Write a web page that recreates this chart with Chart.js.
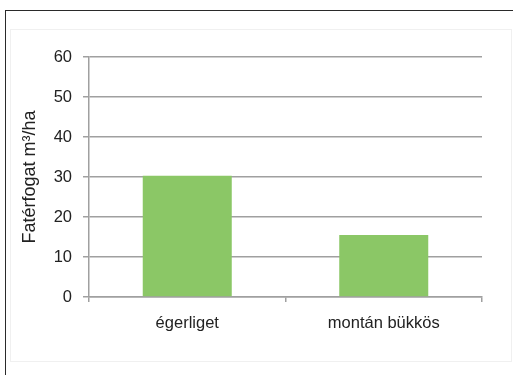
<!DOCTYPE html>
<html>
<head>
<meta charset="utf-8">
<script src="https://cdn.jsdelivr.net/npm/chart.js@4/dist/chart.umd.min.js"></script>
<style>
  body { margin: 0; background: #fff; overflow: hidden; }
  #frame { position: absolute; left: 5px; top: 10px; width: 600px; height: 500px; border: 1.5px solid #2a2a2a; }
  #inner { position: absolute; left: 10px; top: 29px; width: 500px; height: 331px; border: 1px solid #f0f0f0; }
  #chart { position: absolute; left: 0; top: 0; }
</style>
</head>
<body>
<div id="frame"></div>
<div id="inner"></div>
<canvas id="chart" width="513" height="375"></canvas>
<script>
const labels = ['égerliget', 'montán bükkös'];
const volume = [30.3, 15.5];
const yTitle = 'Fatérfogat m³/ha';

const grey = '#a0a0a0';
const family = '"Liberation Sans", Arial, sans-serif';
const font = { family: family, size: 16.5 };

new Chart(document.getElementById('chart'), {
  type: 'bar',
  data: {
    labels: labels,
    datasets: [{
      data: volume,
      backgroundColor: '#8bc766',
      borderWidth: 0,
      categoryPercentage: 1,
      barPercentage: 0.453
    }]
  },
  options: {
    responsive: false,
    animation: false,
    layout: { padding: { left: 0, top: 57, right: 31, bottom: 0 } },
    plugins: { legend: { display: false }, tooltip: { enabled: false } },
    scales: {
      x: {
        grid: { display: true, offset: true, drawOnChartArea: false, tickLength: 5, color: grey, lineWidth: 1.5 },
        border: { color: grey, width: 1.5 },
        ticks: { color: '#222', font: font, padding: 12 },
        afterFit: s => { s.height = 78; }
      },
      y: {
        min: 0,
        max: 60,
        ticks: { stepSize: 10, color: '#222', font: font, padding: 11 },
        grid: { color: grey, lineWidth: 1.5, tickLength: 6 },
        border: { color: grey, width: 1.5 },
        title: { display: true, text: yTitle, color: '#222', font: { family: family, size: 18 }, padding: { top: 19, bottom: 0 } },
        afterFit: s => { s.width = 89; }
      }
    }
  }
});
</script>
</body>
</html>
